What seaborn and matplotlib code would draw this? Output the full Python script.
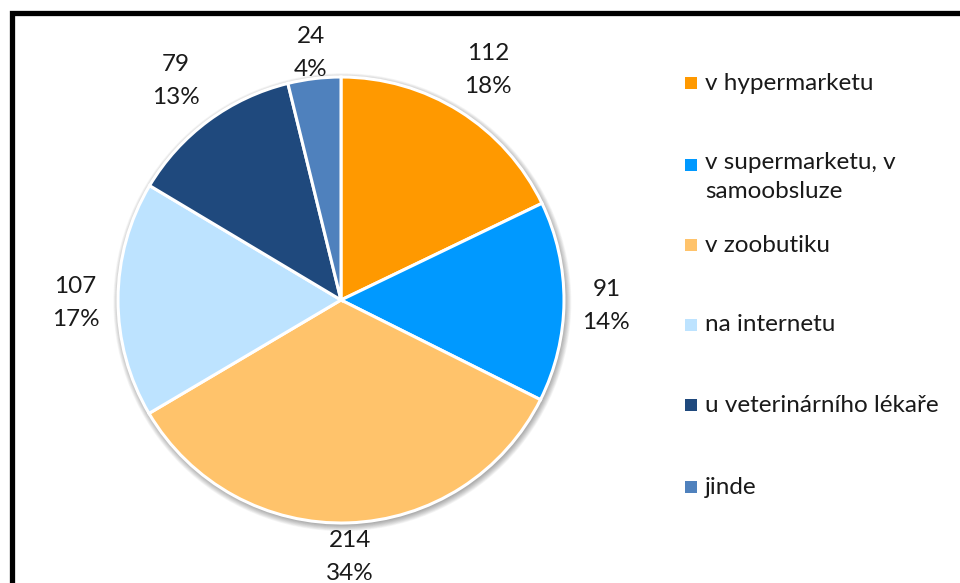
import numpy as np
import matplotlib
matplotlib.use("Agg")
import matplotlib.pyplot as plt
from matplotlib.patches import Circle, Rectangle
import seaborn as sns

# Where pet food is bought (counts of respondents)
categories = [
    "v hypermarketu",
    "v supermarketu, v\nsamoobsluze",
    "v zoobutiku",
    "na internetu",
    "u veterinárního lékaře",
    "jinde",
]
counts = [112, 91, 214, 107, 79, 24]
shares = [18, 14, 34, 17, 13, 4]
colors = ["#FF9900", "#0099FF", "#FFC36B", "#BDE3FF", "#1F497D", "#4F81BD"]

sns.set_theme(style="white")
plt.rcParams["font.family"] = ["Lato", "DejaVu Sans"]

W, H = 960, 583
fig = plt.figure(figsize=(W / 100, H / 100), dpi=100)
fig.patch.set_facecolor("white")

# pie geometry in pixels
cx, cy, r = 341, 300, 223
ax = fig.add_axes([(cx - r) / W, (H - cy - r) / H, 2 * r / W, 2 * r / H])
ax.set_aspect("equal")
ax.axis("off")

# soft drop shadow behind the pie
for i in range(10):
    ax.add_patch(Circle((0.006, -0.010), 1.0 + 0.003 * i, facecolor="black",
                        edgecolor="none", alpha=0.035, zorder=0, clip_on=False))

wedges, _ = ax.pie(counts, colors=colors, startangle=90, counterclock=False,
                   wedgeprops=dict(edgecolor="white", linewidth=2.2),
                   radius=1.0)
for w in wedges:
    w.set_zorder(2)
ax.set_xlim(-1, 1)
ax.set_ylim(-1, 1)

# distance of each data label from the centre, in pie radii
label_radius = [1.24, 1.19, 1.135, 1.19, 1.245, 1.135]
label_drop = 4 / r  # small downward nudge so the two lines sit visually centred
fs = 17.5
txt = "#1a1a1a"
for w, n, s, lr in zip(wedges, counts, shares, label_radius):
    mid = np.deg2rad((w.theta1 + w.theta2) / 2)
    x, y = lr * np.cos(mid), lr * np.sin(mid) - label_drop
    ax.text(x, y, f"{n}\n{s}%", ha="center", va="center", fontsize=fs,
            color=txt, linespacing=1.7, clip_on=False)

# legend: colour key squares and entry labels
leg_y = [83, 165, 245, 325, 405, 487]
for lab, col, yy in zip(categories, colors, leg_y):
    fig.add_artist(Rectangle((685 / W, 1 - (yy + 6) / H), 12 / W, 12 / H,
                             transform=fig.transFigure, facecolor=col,
                             edgecolor="none"))
    if "\n" in lab:
        fig.text(705 / W, 1 - (yy - 13) / H, lab, ha="left", va="top",
                 fontsize=fs, color=txt, linespacing=1.5)
    else:
        fig.text(705 / W, 1 - yy / H, lab, ha="left", va="center",
                 fontsize=fs, color=txt)

# chart frame
fig.add_artist(Rectangle((11.5 / W, -0.2), 1.2, 1 - 12.5 / H + 0.2,
                         transform=fig.transFigure, facecolor="none",
                         edgecolor="black", linewidth=3.8))

fig.savefig("out.png", dpi=100, facecolor="white")
